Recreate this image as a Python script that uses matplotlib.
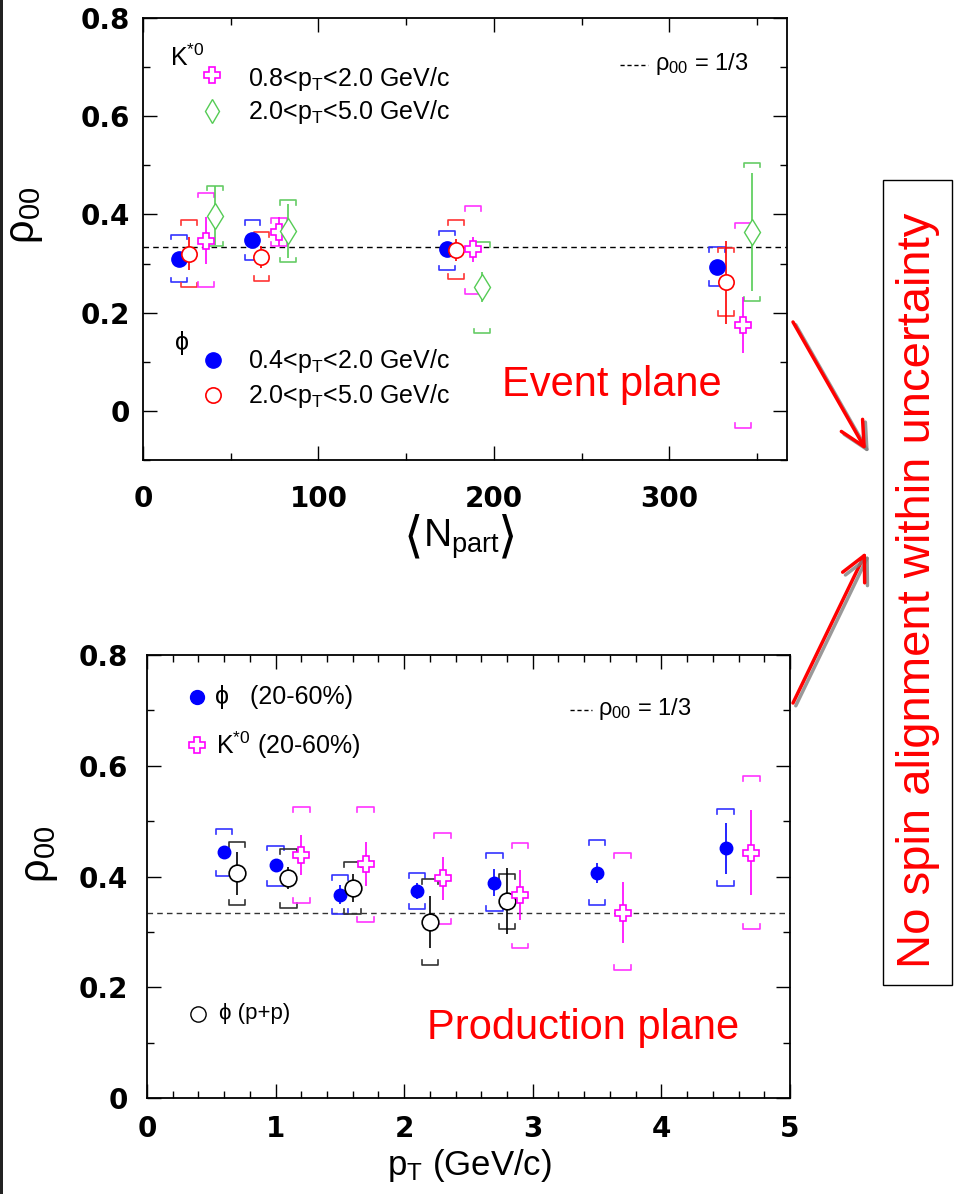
import numpy as np
import matplotlib
matplotlib.use('Agg')
import matplotlib.pyplot as plt
from matplotlib.patches import Rectangle, FancyArrowPatch
import matplotlib.patheffects as pe

plt.rcParams['font.family'] = ['Liberation Sans', 'DejaVu Sans']
plt.rcParams['mathtext.fontset'] = 'custom'
plt.rcParams['mathtext.rm'] = 'Liberation Sans'
plt.rcParams['mathtext.it'] = 'Liberation Sans'
plt.rcParams['mathtext.default'] = 'rm'

# ---- top panel: rho00 vs Npart (event plane) ----
npart_phi_lo = [20.5, 62.4, 173.4, 327.3]
rho_phi_lo = [0.310, 0.348, 0.329, 0.294]
stat_phi_lo = [0.01, 0.01, 0.01, 0.01]
syslo_phi_lo = [0.262, 0.308, 0.287, 0.255]
syshi_phi_lo = [0.359, 0.388, 0.367, 0.333]

npart_phi_hi = [26.2, 67.5, 178.3, 332.4]
rho_phi_hi = [0.320, 0.314, 0.328, 0.262]
stat_phi_hi = [0.034, 0.022, 0.022, 0.085]
syslo_phi_hi = [0.252, 0.265, 0.269, 0.194]
syshi_phi_hi = [0.388, 0.364, 0.388, 0.332]

npart_k_lo = [35.9, 77.7, 188.2, 342.0]
rho_k_lo = [0.347, 0.365, 0.329, 0.175]
stat_k_lo = [0.047, 0.030, 0.025, 0.058]
syslo_k_lo = [0.253, 0.335, 0.239, -0.034]
syshi_k_lo = [0.444, 0.392, 0.417, 0.382]

npart_k_hi = [41.2, 82.8, 193.3, 347.3]
rho_k_hi = [0.397, 0.366, 0.252, 0.364]
stat_k_hi = [0.060, 0.055, 0.030, 0.120]
syslo_k_hi = [0.335, 0.303, 0.158, 0.224]
syshi_k_hi = [0.459, 0.429, 0.343, 0.505]

# ---- bottom panel: rho00 vs pT (production plane) ----
pt_phi = [0.6, 1.0, 1.5, 2.1, 2.7, 3.5, 4.5]
rho_phi = [0.444, 0.420, 0.367, 0.374, 0.389, 0.407, 0.451]
stat_phi = [0.012, 0.012, 0.017, 0.015, 0.025, 0.018, 0.046]
syslo_phi = [0.401, 0.383, 0.332, 0.341, 0.338, 0.349, 0.382]
syshi_phi = [0.486, 0.456, 0.403, 0.407, 0.442, 0.466, 0.522]

pt_pp = [0.7, 1.1, 1.6, 2.2, 2.8]
rho_pp = [0.406, 0.397, 0.379, 0.317, 0.356]
stat_pp = [0.039, 0.020, 0.025, 0.047, 0.060]
syslo_pp = [0.349, 0.344, 0.332, 0.240, 0.306]
syshi_pp = [0.462, 0.449, 0.426, 0.395, 0.405]

pt_k = [1.2, 1.7, 2.3, 2.9, 3.7, 4.7]
rho_k = [0.439, 0.423, 0.397, 0.367, 0.335, 0.443]
stat_k = [0.036, 0.040, 0.039, 0.045, 0.055, 0.077]
syslo_k = [0.353, 0.318, 0.314, 0.270, 0.231, 0.306]
syshi_k = [0.525, 0.526, 0.479, 0.460, 0.442, 0.582]


def brackets(ax, x, lo, hi, w, t, col):
    for xi, l, h in zip(x, lo, hi):
        ax.plot([xi - w, xi - w, xi + w, xi + w], [h - t, h, h, h - t], color=col, lw=1.2, zorder=2)
        ax.plot([xi - w, xi - w, xi + w, xi + w], [l + t, l, l, l + t], color=col, lw=1.2, zorder=2)


def series(ax, x, y, e, col, **kw):
    ax.errorbar(x, y, yerr=e, fmt='none', ecolor=col, elinewidth=1.2, capsize=0, zorder=3)
    ax.plot(x, y, ls='none', zorder=4, **kw)


def style(ax):
    ax.tick_params(which='both', direction='in', top=True, right=True, width=1)
    ax.tick_params(which='major', length=10)
    ax.tick_params(which='minor', length=5)
    for s in ax.spines.values():
        s.set_linewidth(1.3)
    for lab in ax.get_xticklabels() + ax.get_yticklabels():
        lab.set_fontweight('bold')
        lab.set_family('DejaVu Sans')
        lab.set_fontsize(20)


fig = plt.figure(figsize=(9.55, 11.94), dpi=100)

ax1 = fig.add_axes([0.1497, 0.6147, 0.6743, 0.3702])
ax1.set_xlim(0, 367)
ax1.set_ylim(-0.1, 0.8)
ax1.set_xticks([0, 100, 200, 300])
ax1.set_xticks([50, 150, 250, 350], minor=True)
ax1.set_yticks([0, 0.2, 0.4, 0.6, 0.8])
ax1.set_yticklabels(['0', '0.2', '0.4', '0.6', '0.8'])
ax1.set_yticks([-0.1, 0.1, 0.3, 0.5, 0.7], minor=True)
ax1.axhline(1/3, color='black', lw=1, ls=(0, (4, 3)), zorder=1)

brackets(ax1, npart_phi_lo, syslo_phi_lo, syshi_phi_lo, 4.5, 0.009, '#3333ff')
brackets(ax1, npart_phi_hi, syslo_phi_hi, syshi_phi_hi, 4.5, 0.009, '#ff3333')
brackets(ax1, npart_k_lo, syslo_k_lo, syshi_k_lo, 4.5, 0.009, '#ff33ff')
brackets(ax1, npart_k_hi, syslo_k_hi, syshi_k_hi, 4.5, 0.009, '#66cc66')
series(ax1, npart_phi_lo, rho_phi_lo, stat_phi_lo, 'blue', marker='o', ms=11, mfc='blue', mec='blue')
series(ax1, npart_phi_hi, rho_phi_hi, stat_phi_hi, 'red', marker='o', ms=11, mfc='white', mec='red', mew=1.2)
series(ax1, npart_k_lo, rho_k_lo, stat_k_lo, 'magenta', marker='P', ms=12, mfc='white', mec='magenta', mew=1.2)
series(ax1, npart_k_hi, rho_k_hi, stat_k_hi, '#55cc55', marker='d', ms=13, mfc='white', mec='#55cc55', mew=1.0)

ax1.set_ylabel(r'$\rho_{00}$', fontsize=30)
ax1.yaxis.set_label_coords(-0.152, 0.554)
ax1.tick_params(axis='x', pad=18)
ax1.tick_params(axis='y', pad=9)
style(ax1)

T = ax1.transAxes
# x label <N_part> built from three pieces so the angle brackets can use DejaVu Sans
ax1.text(0.494, -0.18, 'N$_{part}$', transform=T, fontsize=28, ha='center', va='center')
ax1.text(0.420, -0.176, '⟨', transform=T, fontsize=36, family='DejaVu Sans', ha='center', va='center')
ax1.text(0.566, -0.176, '⟩', transform=T, fontsize=36, family='DejaVu Sans', ha='center', va='center')

ax1.text(0.042, 0.909, r'K$^{*0}$', transform=T, fontsize=18, va='center')
ax1.plot([0.107], [0.871], transform=T, marker='P', ms=11, mfc='white', mec='magenta', mew=1.2)
ax1.text(0.163, 0.862, r'0.8<p$_T$<2.0 GeV/c', transform=T, fontsize=18, va='center')
ax1.plot([0.107], [0.790], transform=T, marker='d', ms=12, mfc='white', mec='#55cc55', mew=1.0)
ax1.text(0.163, 0.787, r'2.0<p$_T$<5.0 GeV/c', transform=T, fontsize=18, va='center')
ax1.plot([0.741, 0.784], [0.894, 0.894], transform=T, color='black', lw=1, ls=(0, (3, 2)))
ax1.text(0.795, 0.896, r'$\rho_{00}$ = 1/3', transform=T, fontsize=17, va='center')
ax1.text(0.05, 0.265, 'ϕ', transform=T, fontsize=18, va='center')
ax1.plot([0.109], [0.226], transform=T, marker='o', ms=11, color='blue')
ax1.text(0.163, 0.224, r'0.4<p$_T$<2.0 GeV/c', transform=T, fontsize=18, va='center')
ax1.plot([0.109], [0.147], transform=T, marker='o', ms=11, mfc='white', mec='red', mew=1.2)
ax1.text(0.163, 0.145, r'2.0<p$_T$<5.0 GeV/c', transform=T, fontsize=18, va='center')
ax1.text(0.728, 0.170, 'Event plane', transform=T, fontsize=30, color='red', ha='center', va='center')

ax2 = fig.add_axes([0.1539, 0.0804, 0.6733, 0.371])
ax2.set_xlim(0, 5)
ax2.set_ylim(0, 0.8)
ax2.set_xticks([0, 1, 2, 3, 4, 5])
ax2.set_xticks(np.arange(0.2, 5, 0.2), minor=True)
ax2.set_yticks([0, 0.2, 0.4, 0.6, 0.8])
ax2.set_yticklabels(['0', '0.2', '0.4', '0.6', '0.8'])
ax2.set_yticks([0.1, 0.3, 0.5, 0.7], minor=True)
ax2.axhline(1/3, color='#333333', lw=1, ls=(0, (4, 3)), zorder=1)

brackets(ax2, pt_phi, syslo_phi, syshi_phi, 0.065, 0.009, '#3333ff')
brackets(ax2, pt_pp, syslo_pp, syshi_pp, 0.065, 0.009, '#333333')
brackets(ax2, pt_k, syslo_k, syshi_k, 0.065, 0.009, '#ff33ff')
series(ax2, pt_phi, rho_phi, stat_phi, 'blue', marker='o', ms=9, color='blue')
series(ax2, pt_pp, rho_pp, stat_pp, 'black', marker='o', ms=12, mfc='white', mec='black', mew=1.2)
series(ax2, pt_k, rho_k, stat_k, 'magenta', marker='P', ms=12, mfc='white', mec='magenta', mew=1.2)

ax2.set_ylabel(r'$\rho_{00}$', fontsize=30)
ax2.yaxis.set_label_coords(-0.135, 0.549)
ax2.set_xlabel(r'p$_T$ (GeV/c)', fontsize=25)
ax2.xaxis.set_label_coords(0.502, -0.11)
ax2.tick_params(axis='x', pad=12)
ax2.tick_params(axis='y', pad=14)
style(ax2)

T = ax2.transAxes
ax2.plot([0.078], [0.905], transform=T, marker='o', ms=10, color='blue')
ax2.text(0.106, 0.905, 'ϕ   (20-60%)', transform=T, fontsize=18, va='center')
ax2.plot([0.078], [0.797], transform=T, marker='P', ms=11, mfc='white', mec='magenta', mew=1.2)
ax2.text(0.108, 0.797, r'K$^{*0}$ (20-60%)', transform=T, fontsize=18, va='center')
ax2.plot([0.658, 0.692], [0.876, 0.876], transform=T, color='black', lw=1, ls=(0, (3, 2)))
ax2.text(0.701, 0.878, r'$\rho_{00}$ = 1/3', transform=T, fontsize=17, va='center')
ax2.plot([0.079], [0.19], transform=T, marker='o', ms=11, mfc='white', mec='black', mew=1.0)
ax2.text(0.112, 0.19, 'ϕ (p+p)', transform=T, fontsize=16, va='center')
ax2.text(0.678, 0.158, 'Production plane', transform=T, fontsize=30, color='red', ha='center', va='center')

# right hand box and arrows
W, H = 955.0, 1194.0
fig.add_artist(Rectangle((883 / W, 1 - 985 / H), 69 / W, 805 / H, transform=fig.transFigure,
                         fill=False, ec='black', lw=1))
fig.text(918 / W, 1 - 590 / H, 'No spin alignment within uncertainty', rotation=90,
         color='red', fontsize=34, ha='center', va='center')
for (x0, y0), (x1, y1) in [((793, 322), (866, 450)), ((793, 703), (866, 552))]:
    arr = FancyArrowPatch((x0 / W, 1 - y0 / H), (x1 / W, 1 - y1 / H), transform=fig.transFigure,
                          arrowstyle='->,head_length=0.8,head_width=0.4', mutation_scale=22,
                          shrinkA=0, shrinkB=0, color='red', lw=2.5,
                          path_effects=[pe.SimpleLineShadow(offset=(2, -2), shadow_color='gray', alpha=0.8),
                                        pe.Normal()])
    fig.add_artist(arr)
fig.add_artist(Rectangle((0, 0), 3 / W, 1, transform=fig.transFigure, color='#222222', lw=0))

fig.savefig('out.png', dpi=100)
